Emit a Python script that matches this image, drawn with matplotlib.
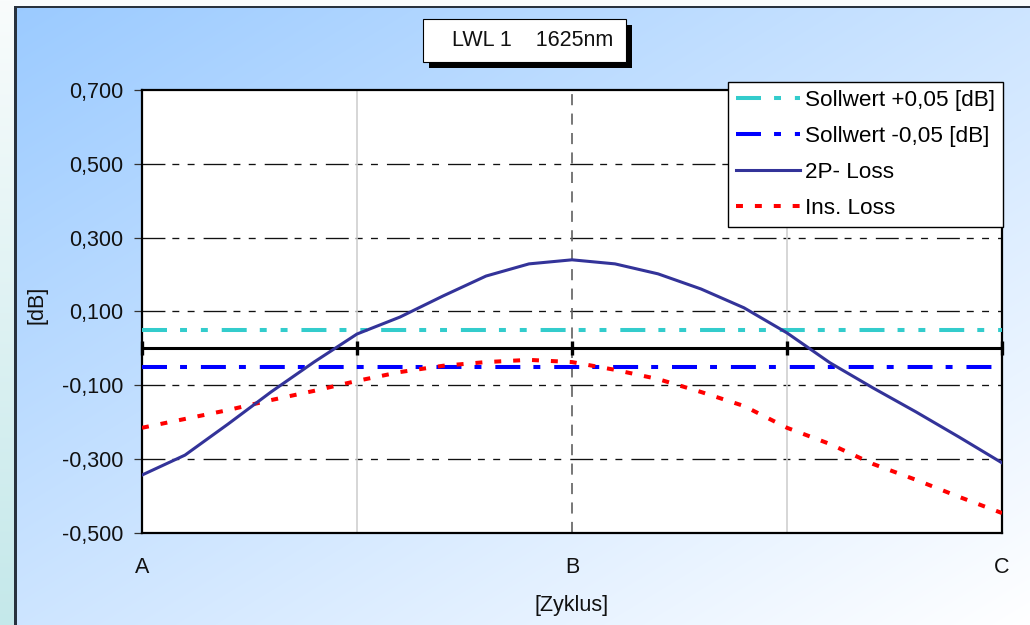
import numpy as np
import matplotlib
matplotlib.use("Agg")
import matplotlib.pyplot as plt
from matplotlib.lines import Line2D
from matplotlib.patches import Rectangle

plt.rcParams['font.family'] = ['Liberation Sans', 'DejaVu Sans']
plt.rcParams['lines.scale_dashes'] = False

# ---------------- data ----------------
cycle_labels = ['A', 'B', 'C']
steps_per_cycle = 10
loss_2p = [-0.343, -0.289, -0.205, -0.118, -0.037, 0.039, 0.085, 0.142, 0.196, 0.229,
           0.240, 0.229, 0.202, 0.161, 0.110, 0.042, -0.039, -0.107, -0.172, -0.240, -0.310]
ins_loss = [-0.215, -0.191, -0.167, -0.140, -0.115, -0.088, -0.064, -0.047, -0.037, -0.031,
            -0.037, -0.058, -0.083, -0.118, -0.156, -0.215, -0.259, -0.313, -0.356, -0.402, -0.446]
soll_plus = 0.05
soll_minus = -0.05
zero_level = 0.0
zero_marker_every = 5
y_ticks = [-0.5, -0.3, -0.1, 0.1, 0.3, 0.5, 0.7]
y_tick_labels = ['-0,500', '-0,300', '-0,100', '0,100', '0,300', '0,500', '0,700']
legend_labels = ['Sollwert +0,05 [dB]', 'Sollwert -0,05 [dB]', '2P- Loss', 'Ins. Loss']
title_text = 'LWL 1    1625nm'

W, H, DPI = 1030, 625, 100
fig = plt.figure(figsize=(W / DPI, H / DPI), dpi=DPI)

# ---------------- background ----------------
bg = fig.add_axes([0, 0, 1, 1], zorder=-10)
yy, xx = np.mgrid[0:H, 0:W].astype(float)
t = (xx / W + yy / H) / 2.0
c0 = np.array([154, 202, 255]) / 255.0
c1 = np.array([255, 255, 255]) / 255.0
img = c0[None, None, :] + (c1 - c0)[None, None, :] * t[..., None]
ly = (yy / H)[..., None]
left_top = np.array([249, 252, 252]) / 255.0
left_bot = np.array([196, 232, 234]) / 255.0
left_col = left_top + (left_bot - left_top) * ly
mask_left = xx < 14
img[mask_left] = left_col[mask_left]
mask_top = (yy < 6) & (xx >= 14)
img[mask_top] = np.array([249, 252, 253]) / 255.0
border = np.array([40, 50, 62]) / 255.0
img[(xx >= 14) & (xx < 17) & (yy >= 6)] = border
img[(yy >= 6) & (yy < 8) & (xx >= 14)] = border
bg.imshow(img, extent=[0, W, H, 0], aspect='auto', interpolation='nearest')
bg.set_xlim(0, W)
bg.set_ylim(H, 0)
bg.axis('off')

# ---------------- main axes ----------------
L, R, T, B = 142, 1002, 90, 533
ax = fig.add_axes([L / W, 1 - B / H, (R - L) / W, (B - T) / H], zorder=1)
ax.set_facecolor('white')

n = len(loss_2p)
x = np.arange(n)
ax.set_xlim(0, n - 1)
ax.set_ylim(-0.5, 0.7)

# grid lines
for yv in y_ticks[1:-1]:
    ax.axhline(yv, color='#111111', lw=0.95, ls=(0, (16.5, 5, 5, 6, 5, 6.5)), zorder=1)
ax.axvline(steps_per_cycle / 2, color='#cfcfcf', lw=1.2, zorder=1)
ax.axvline(steps_per_cycle * 1.5, color='#cfcfcf', lw=1.2, zorder=1)
ax.axvline(steps_per_cycle, color='#606060', lw=1.2, ls=(0, (8, 6)), zorder=1)

# series
ax.plot(x, [soll_plus] * n, color='#33CCCC', lw=2.9,
        ls=(0, (18, 9.4, 5, 10, 5, 10)), zorder=3)
ax.plot(x, [soll_minus] * n, color='#0000FF', lw=2.9,
        ls=(0, (18, 9.4, 5, 10)), zorder=3)
ax.plot(x, [zero_level] * n, color='black', lw=2.2, marker='|', markersize=10,
        mew=2.4, markevery=zero_marker_every, zorder=4, clip_on=False)
ax.plot(x, ins_loss, color='#FF0000', lw=2.9, ls=(0, (5, 8.6)), zorder=5)
ax.plot(x, loss_2p, color='#333399', lw=2.2, zorder=6)

for s in ax.spines.values():
    s.set_linewidth(1.6)
    s.set_color('black')

ax.set_yticks(y_ticks)
ax.set_yticklabels(y_tick_labels, fontsize=15.5, color='#111111')
ax.tick_params(axis='y', length=5.5, width=0.9, pad=8, color='#333333')
ax.set_xticks([i * steps_per_cycle for i in range(len(cycle_labels))])
ax.set_xticklabels(cycle_labels, fontsize=15.5, color='#111111')
ax.tick_params(axis='x', length=0, pad=17)

fig.text(572 / W, 1 - 605 / H, '[Zyklus]', fontsize=15.5, ha='center', va='center', color='#111111')
fig.text(37 / W, 1 - 305 / H, '[dB]', fontsize=15.5, ha='center', va='center', rotation=90, color='#111111')

# legend
handles = [
    Line2D([], [], color='#33CCCC', lw=2.9, ls=(0, (18, 9.4, 5, 10, 5, 10))),
    Line2D([], [], color='#0000FF', lw=2.9, ls=(0, (18, 9.4, 5, 10))),
    Line2D([], [], color='#333399', lw=2.2),
    Line2D([], [], color='#FF0000', lw=2.9, ls=(0, (5, 8.6))),
]
leg = ax.legend(handles, legend_labels, loc='upper right',
                bbox_to_anchor=(1003 / W, 1 - 82 / H), bbox_transform=fig.transFigure,
                borderaxespad=0, fontsize=16.2, handlelength=2.85, handletextpad=0.2,
                labelspacing=0.66, borderpad=0.36, fancybox=False, framealpha=1,
                edgecolor='black')
leg.get_frame().set_linewidth(1.0)
leg.set_zorder(10)

# title box with shadow
bx0, by0, bx1, by1 = 423, 19, 626, 62
fig.patches.append(Rectangle(((bx0 + 6) / W, 1 - (by1 + 6) / H), (bx1 - bx0) / W, (by1 - by0) / H,
                             transform=fig.transFigure, facecolor='black', edgecolor='none', zorder=2))
fig.patches.append(Rectangle((bx0 / W, 1 - by1 / H), (bx1 - bx0) / W, (by1 - by0) / H,
                             transform=fig.transFigure, facecolor='white', edgecolor='black', lw=0.8, zorder=3))
fig.text(533 / W, 1 - 41 / H, title_text, fontsize=15.5, ha='center', va='center', color='#111111', zorder=4)

fig.savefig('out.png', dpi=DPI)
